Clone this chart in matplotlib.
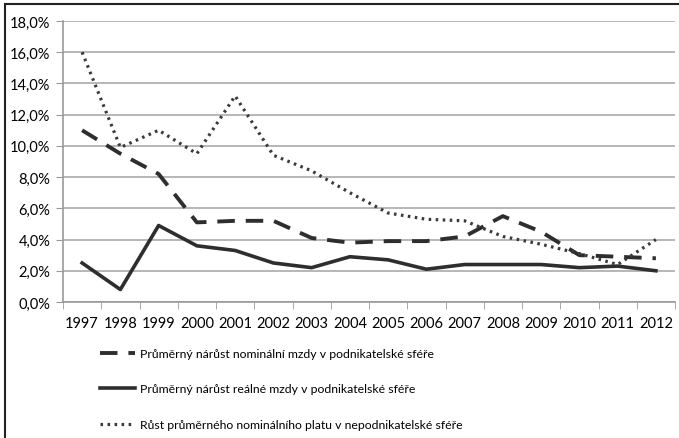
import matplotlib
matplotlib.use("Agg")
import matplotlib.pyplot as plt
from matplotlib.ticker import FuncFormatter, FixedLocator
from matplotlib.patches import Rectangle

years = [str(y) for y in range(1997, 2013)]
nominal_business = [11.0, 9.5, 8.2, 5.1, 5.2, 5.2, 4.1, 3.8, 3.9, 3.9, 4.2, 5.5, 4.5, 3.0, 2.9, 2.8]
real_business = [2.5, 0.8, 4.9, 3.6, 3.3, 2.5, 2.2, 2.9, 2.7, 2.1, 2.4, 2.4, 2.4, 2.2, 2.3, 2.0]
nominal_public = [16.0, 9.9, 11.0, 9.5, 13.2, 9.4, 8.4, 7.0, 5.7, 5.3, 5.2, 4.2, 3.7, 3.1, 2.4, 4.0]
labels = [
    "Průměrný nárůst nominální mzdy v podnikatelské sféře",
    "Průměrný nárůst reálné mzdy v podnikatelské sféře",
    "Růst průměrného nominálního platu v nepodnikatelské sféře",
]

plt.rcParams["font.family"] = ["Lato", "DejaVu Sans"]

fig = plt.figure(figsize=(6.79, 4.39), dpi=100)
fig.patches.append(Rectangle((5 / 679, -0.05), 1.1, 1 - 5 / 439 + 0.05, transform=fig.transFigure,
                             fill=False, edgecolor="#222222", lw=1.5))
ax = fig.add_axes([63 / 679, 1 - 303 / 439, (675 - 63) / 679, (303 - 22) / 439])

x = list(range(len(years)))
ax.plot(x, nominal_business, color="#2e2e2e", lw=2.8, linestyle=(0, (4.5, 2.8)), label=labels[0])
ax.plot(x, real_business, color="#2e2e2e", lw=2.6, label=labels[1])
ax.plot(x, nominal_public, color="#3a3a3a", lw=2.3, linestyle=(0, (0.8, 1.4)), label=labels[2])

ax.set_xlim(-0.5, len(years) - 0.5)
ax.set_ylim(0, 18)
ax.set_yticks([0, 2, 4, 6, 8, 10, 12, 14, 16, 18])
ax.yaxis.set_major_formatter(FuncFormatter(lambda v, p: f"{v:.1f}%".replace(".", ",")))
ax.set_xticks(x)
ax.set_xticklabels(years)
ax.xaxis.set_minor_locator(FixedLocator([i - 0.5 for i in range(len(years) + 1)]))
ax.tick_params(axis="x", which="major", length=0, pad=10, labelsize=10.5)
ax.tick_params(axis="x", which="minor", length=5, color="#999999")
ax.tick_params(axis="y", length=5, color="#999999", labelsize=10.5, pad=4)
ax.grid(axis="y", color="#aaaaaa", lw=1.2)
ax.set_axisbelow(True)
for s in ["top", "right"]:
    ax.spines[s].set_visible(False)
for s in ["left", "bottom"]:
    ax.spines[s].set_color("#999999")
    ax.spines[s].set_linewidth(1.2)

fig.legend(loc="upper left", bbox_to_anchor=(100 / 679, 1 - 349 / 439), frameon=False,
           borderpad=0, borderaxespad=0, fontsize=8.8, handlelength=2.9,
           handletextpad=0.4, labelspacing=2.0)

fig.savefig("out.png", dpi=100)
